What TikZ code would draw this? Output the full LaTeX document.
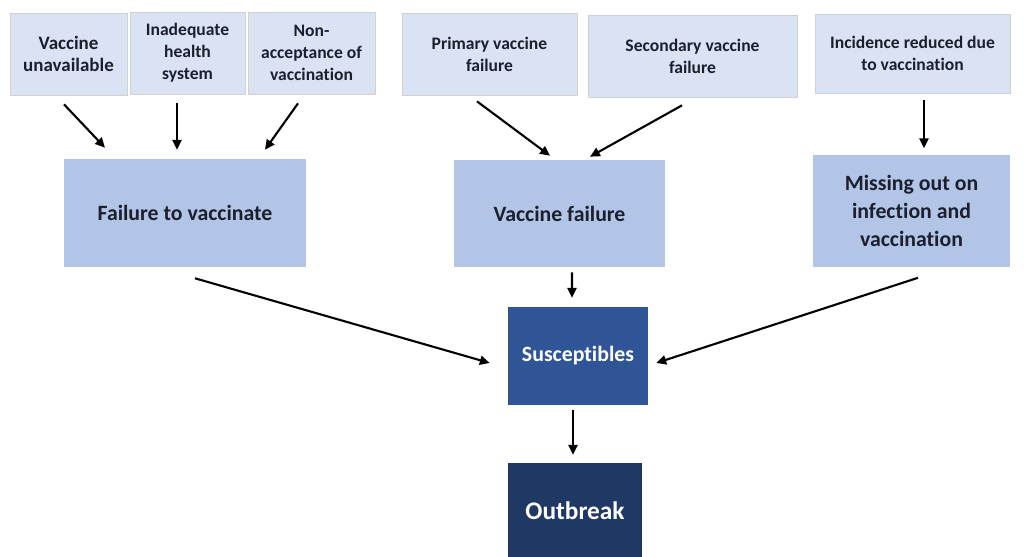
\documentclass[tikz,border=0pt]{standalone}
\usepackage{fontspec}
\setmainfont{Carlito}[Ligatures=NoCommon]
\usepackage{xcolor}
\usepackage{tikz}
\usetikzlibrary{arrows.meta}

\definecolor{paleblue}{HTML}{DAE3F3}
\definecolor{midblue}{HTML}{B2C5E6}
\definecolor{deepblue}{HTML}{2F5597}
\definecolor{navyblue}{HTML}{1F3864}
\definecolor{inkdark}{HTML}{1B1F2E}

\begin{document}
\begin{tikzpicture}[x=0.025cm, y=-0.025cm,
	cause/.style={fill=paleblue, draw=black!18, line width=0.5pt, align=center, text=inkdark,
		font=\fontsize{12.5}{15.6}\selectfont\bfseries, inner sep=2pt},
	route/.style={fill=midblue, align=center, text=inkdark,
		font=\fontsize{15.5}{19.8}\selectfont\bfseries, inner sep=2pt},
	core/.style={fill=deepblue, align=center, text=white,
		font=\fontsize{15.5}{18}\selectfont\bfseries},
	result/.style={fill=navyblue, align=center, text=white,
		font=\fontsize{18}{21}\selectfont\bfseries},
	arr/.style={-{Triangle[length=7pt,width=6.5pt]}, line width=1.5pt, black}]
	\useasboundingbox (0,0) rectangle (1024,557);
	% top row
	\node[cause, minimum width=2.925cm, minimum height=2.05cm, font=\fontsize{13.5}{15.6}\selectfont\bfseries] (unavail) at (68.5,54) {Vaccine\\unavailable};
	\node[cause, minimum width=2.875cm, minimum height=2.05cm] (health) at (187.5,53) {Inadequate\\health\\system};
	\node[cause, minimum width=3.175cm, minimum height=2.05cm] (accept) at (311.5,53) {Non-\\acceptance of\\vaccination};
	\node[cause, minimum width=4.375cm, minimum height=2.05cm] (primary) at (489.5,54) {Primary vaccine\\failure};
	\node[cause, minimum width=5.225cm, minimum height=2.05cm] (secondary) at (692.5,56) {Secondary vaccine\\failure};
	\node[cause, minimum width=4.875cm, minimum height=1.975cm] (incid) at (912.5,53.5) {Incidence reduced due\\to vaccination};
	% middle row
	\node[route, minimum width=6.05cm, minimum height=2.7cm] (fail) at (185,213) {Failure to vaccinate};
	\node[route, minimum width=5.275cm, minimum height=2.675cm] (vfail) at (559.5,213.5) {Vaccine failure};
	\node[route, minimum width=4.925cm, minimum height=2.775cm] (missing) at (911.5,211) {Missing out on\\infection and\\vaccination};
	% bottom
	\node[core, minimum width=3.5cm, minimum height=2.45cm] (suscept) at (578,356) {Susceptibles};
	\node[result, minimum width=3.35cm, minimum height=2.4cm] (outbreak) at (575,511) {Outbreak};

	\draw[arr] ([shift={(-4.5,9)}]unavail.south) -- ([shift={(-80,-11)}]fail.north);
	\draw[arr] ([shift={(-10.5,9)}]health.south) -- ([shift={(-8,-9)}]fail.north);
	\draw[arr] ([shift={(-13.5,9)}]accept.south) -- ([shift={(80,-9)}]fail.north);
	\draw[arr] ([shift={(-12.5,6)}]primary.south) -- ([shift={(-9.5,-4)}]vfail.north);
	\draw[arr] ([shift={(-10.5,8)}]secondary.south) -- ([shift={(30.5,-3)}]vfail.north);
	\draw[arr] ([shift={(11.5,7)}]incid.south) -- ([shift={(12.5,-7)}]missing.north);
	\draw[arr] ([shift={(12.5,5)}]vfail.south) -- ([shift={(-6,-9)}]suscept.north);
	\draw[arr] ([shift={(10,11)}]fail.south) -- ([shift={(-18,7)}]suscept.west);
	\draw[arr] ([shift={(6.5,11)}]missing.south) -- ([shift={(8,7)}]suscept.east);
	\draw[arr] ([shift={(-5,5)}]suscept.south) -- ([shift={(-2,-8)}]outbreak.north);
\end{tikzpicture}
\end{document}
